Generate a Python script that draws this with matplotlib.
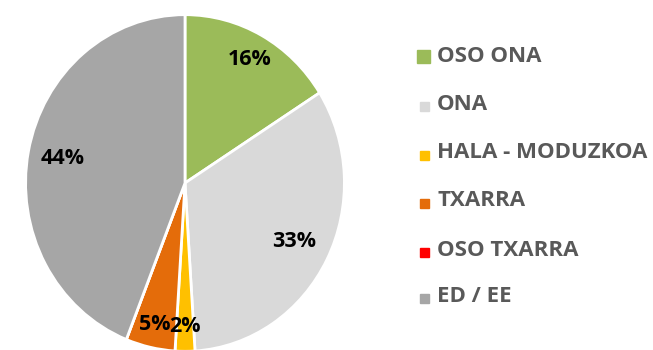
import numpy as np
import matplotlib.pyplot as plt
from matplotlib.patches import Rectangle

plt.rcParams['font.family'] = ['Open Sans', 'DejaVu Sans']

# Datuak
categories = ['OSO ONA', 'ONA', 'HALA - MODUZKOA', 'TXARRA', 'OSO TXARRA', 'ED / EE']
values = [16, 33, 2, 5, 0, 44]
colors = ['#9BBB59', '#D9D9D9', '#FFC000', '#E46C0A', '#FF0000', '#A6A6A6']
# etiketen distantzia erdigunetik (erradioaren zatia)
label_dist = [0.84, 0.77, 0.85, 0.86, 0.8, 0.78]

W, H = 653, 350
fig = plt.figure(figsize=(W / 100, H / 100), dpi=100)

# tarta: zabalera 322 px, altuera 340 px (pixka bat luzatuta)
px_l, px_t, px_w, px_h = 24, 13, 322, 340
ax = fig.add_axes([px_l / W, 1 - (px_t + px_h) / H, px_w / W, px_h / H])
wedges, _ = ax.pie(values, colors=colors, startangle=90, counterclock=False,
                   radius=1, wedgeprops=dict(edgecolor='white', linewidth=2))
ax.set_aspect('auto')
ax.set_xlim(-1.01, 1.01)
ax.set_ylim(-1.01, 1.01)
ax.axis('off')

for w, v, d in zip(wedges, values, label_dist):
    if v == 0:
        continue
    ang = np.deg2rad((w.theta1 + w.theta2) / 2)
    ax.text(d * np.cos(ang), d * np.sin(ang), f'{v}%', ha='center', va='center',
            fontsize=15.5, fontweight='bold', color='black')

# legenda
lg = fig.add_axes([0, 0, 1, 1])
lg.set_xlim(0, W)
lg.set_ylim(H, 0)
lg.axis('off')
row_y = [56, 104, 153, 201, 250, 296]
for i, (name, c, y) in enumerate(zip(categories, colors, row_y)):
    s = 13 if i == 0 else 9
    x0 = 417 if i == 0 else 420
    lg.add_patch(Rectangle((x0, y + 7 - s), s, s, color=c))
    lg.text(437, y, name, ha='left', va='center', fontsize=16,
            fontweight='bold', color='#595959')

fig.savefig('out.png', dpi=100)
